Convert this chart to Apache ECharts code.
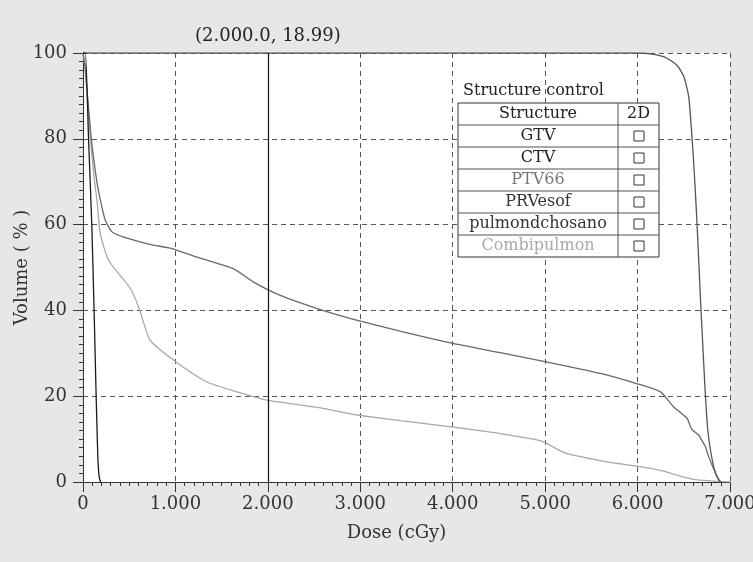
<!DOCTYPE html>
<html>
<head>
<meta charset="utf-8">
<title>DVH</title>
<script src="https://cdn.jsdelivr.net/npm/echarts@6/dist/echarts.min.js"></script>
<style>
  html, body { margin: 0; padding: 0; background: #e6e7e9; }
  #chart { width: 753px; height: 562px; }
</style>
</head>
<body>
<div id="chart"></div>
<script>
// dose (cGy) / volume (%) pairs
const gtv = [[0, 100], [25, 100], [60, 80], [95, 60], [120, 40], [140, 22], [152, 12], [162, 5], [175, 1.2], [190, 0]];
const ptv66 = [[0, 100], [6000, 100], [6140, 99.8], [6300, 99], [6429, 97.1], [6500, 94.5], [6554, 89.7], [6608, 74.2],
  [6645, 59.5], [6681, 42.4], [6710, 30], [6735, 19.8], [6760, 12], [6789, 7.4], [6830, 3], [6879, 0.4], [6900, 0]];
const pulmon = [[0, 100], [25, 96], [90, 80], [150, 70], [188, 65.7], [241, 61], [314, 58.3], [440, 57.1], [747, 55.3],
  [945, 54.5], [1234, 52.4], [1630, 49.7], [1846, 46.6], [2135, 43.5], [2568, 40.2], [3000, 37.5], [3542, 34.6],
  [4004, 32.3], [4500, 30.2], [5011, 28.0], [5598, 25.3], [5996, 22.9], [6248, 21.0], [6392, 17.5], [6537, 14.8],
  [6580, 12.5], [6600, 12], [6663, 10.9], [6700, 9.5], [6735, 8.2], [6771, 5.8], [6861, 1.2], [6900, 0]];
const combi = [[0, 100], [25, 96], [80, 80], [125, 70], [151, 65.7], [187, 57.9], [277, 51.7], [512, 45.1], [602, 40.8],
  [728, 33.0], [981, 28.4], [1342, 23.3], [1667, 21.0], [2002, 19.0], [2135, 18.6], [2568, 17.3], [2893, 15.9],
  [3000, 15.5], [3434, 14.3], [4004, 12.8], [4516, 11.3], [4913, 9.8], [5011, 9.1], [5100, 8.0], [5238, 6.6],
  [5671, 4.7], [5996, 3.7], [6248, 2.7], [6608, 0.6], [6825, 0.2], [7000, 0]];

const markerDose = 2000;
const markerVol = 18.99;

const structures = ["GTV", "CTV", "PTV66", "PRVesof", "pulmondchosano", "Combipulmon"];
const structColors = ["#222", "#222", "#777", "#333", "#333", "#aaa"];

const font = '"DejaVu Serif", serif';
const fmt = v => String(v).replace(/\B(?=(\d{3})+(?!\d))/g, ".");

// structure control table (overlay)
const tX = 458, tY = 103, rowH = 22, tW = 201, colX = 618;
const table = [
  { type: "text", x: 463, y: 91, z: 100,
    style: { text: "Structure control", font: "16px " + font, fill: "#222", align: "left", verticalAlign: "middle" } },
  { type: "rect", z: 100, shape: { x: tX, y: tY, width: tW, height: rowH * (structures.length + 1) },
    style: { fill: "#fff", stroke: "#333", lineWidth: 1 } },
  { type: "line", z: 101, shape: { x1: colX, y1: tY, x2: colX, y2: tY + rowH * (structures.length + 1) },
    style: { stroke: "#555", lineWidth: 1 } },
  { type: "text", x: (tX + colX) / 2, y: tY + rowH / 2, z: 101,
    style: { text: "Structure", font: "16px " + font, fill: "#222", align: "center", verticalAlign: "middle" } },
  { type: "text", x: (colX + tX + tW) / 2, y: tY + rowH / 2, z: 101,
    style: { text: "2D", font: "16px " + font, fill: "#222", align: "center", verticalAlign: "middle" } }
];
structures.forEach((s, i) => {
  const y = tY + rowH * (i + 1);
  table.push({ type: "line", z: 101, shape: { x1: tX, y1: y, x2: tX + tW, y2: y }, style: { stroke: "#555", lineWidth: 1 } });
  table.push({ type: "text", x: (tX + colX) / 2, y: y + rowH / 2, z: 101,
    style: { text: s, font: "16px " + font, fill: structColors[i], align: "center", verticalAlign: "middle" } });
  table.push({ type: "rect", z: 101, shape: { x: 634, y: y + rowH / 2 - 5, width: 10, height: 10 },
    style: { fill: "#fff", stroke: "#333", lineWidth: 1 } });
});

const chart = echarts.init(document.getElementById("chart"));

const lineSeries = (name, data, color, extra) => Object.assign({
  name: name,
  type: "line",
  data: data,
  showSymbol: false,
  symbol: "none",
  smooth: 0.2,
  lineStyle: { color: color, width: 1.3 },
  itemStyle: { color: color },
  animation: false
}, extra || {});

const baseX = {
  type: "value", min: 0, max: 7000, interval: 1000
};
const baseY = {
  type: "value", min: 0, max: 100, interval: 20
};

chart.setOption({
  backgroundColor: "#e6e7e9",
  animation: false,
  grid: {
    left: 83, right: 23, top: 53, bottom: 80,
    outerBoundsMode: "none",
    show: true, backgroundColor: "#fff", borderWidth: 0
  },
  xAxis: [
    Object.assign({}, baseX, {
      name: "Dose (cGy)",
      nameLocation: "middle",
      nameGap: 42,
      nameMoveOverlap: false,
      nameTextStyle: { fontFamily: font, fontSize: 18, color: "#333", padding: [0, 20, 0, 0] },
      axisLine: { show: true, lineStyle: { color: "#333", width: 1 } },
      axisTick: { show: true, length: 10, lineStyle: { color: "#333" } },
      minorTick: { show: true, splitNumber: 10, length: 4, lineStyle: { color: "#333" } },
      axisLabel: { fontFamily: font, fontSize: 18, color: "#333", margin: 13, formatter: v => fmt(v) },
      splitLine: { show: true, lineStyle: { color: "#555", type: [5, 4], width: 1 } }
    }),
    Object.assign({}, baseX, {
      axisLine: { show: false },
      axisTick: { show: false, inside: true },
      minorTick: { show: true, splitNumber: 10, length: 4, lineStyle: { color: "#333" } },
      axisLabel: { show: false },
      splitLine: { show: false }
    })
  ],
  yAxis: [
    Object.assign({}, baseY, {
      name: "Volume ( % )",
      nameLocation: "middle",
      nameGap: 52,
      nameMoveOverlap: false,
      nameTextStyle: { fontFamily: font, fontSize: 18, color: "#333" },
      axisLine: { show: true, lineStyle: { color: "#333", width: 1 } },
      axisTick: { show: true, length: 10, lineStyle: { color: "#333" } },
      minorTick: { show: true, splitNumber: 10, length: 4, lineStyle: { color: "#333" } },
      axisLabel: { fontFamily: font, fontSize: 18, color: "#333", margin: 16 },
      splitLine: { show: true, lineStyle: { color: "#555", type: [5, 4], width: 1 } }
    }),
    Object.assign({}, baseY, {
      axisLine: { show: false },
      axisTick: { show: false, inside: true },
      minorTick: { show: true, splitNumber: 10, length: 4, lineStyle: { color: "#333" } },
      axisLabel: { show: false },
      splitLine: { show: false }
    })
  ],
  series: [
    lineSeries("Combipulmon", combi, "#a8a8a8", {
      markLine: {
        silent: true,
        symbol: "none",
        animation: false,
        lineStyle: { color: "#111", type: "solid", width: 1.2 },
        label: {
          show: true,
          position: "end",
          distance: 8,
          fontFamily: font,
          fontSize: 18,
          color: "#222",
          formatter: () => "(" + fmt(markerDose) + ".0, " + markerVol + ")"
        },
        data: [{ xAxis: markerDose }]
      }
    }),
    lineSeries("pulmondchosano", pulmon, "#696969"),
    lineSeries("PTV66", ptv66, "#555"),
    lineSeries("GTV", gtv, "#1a1a1a")
  ],
  graphic: table
});
</script>
</body>
</html>
